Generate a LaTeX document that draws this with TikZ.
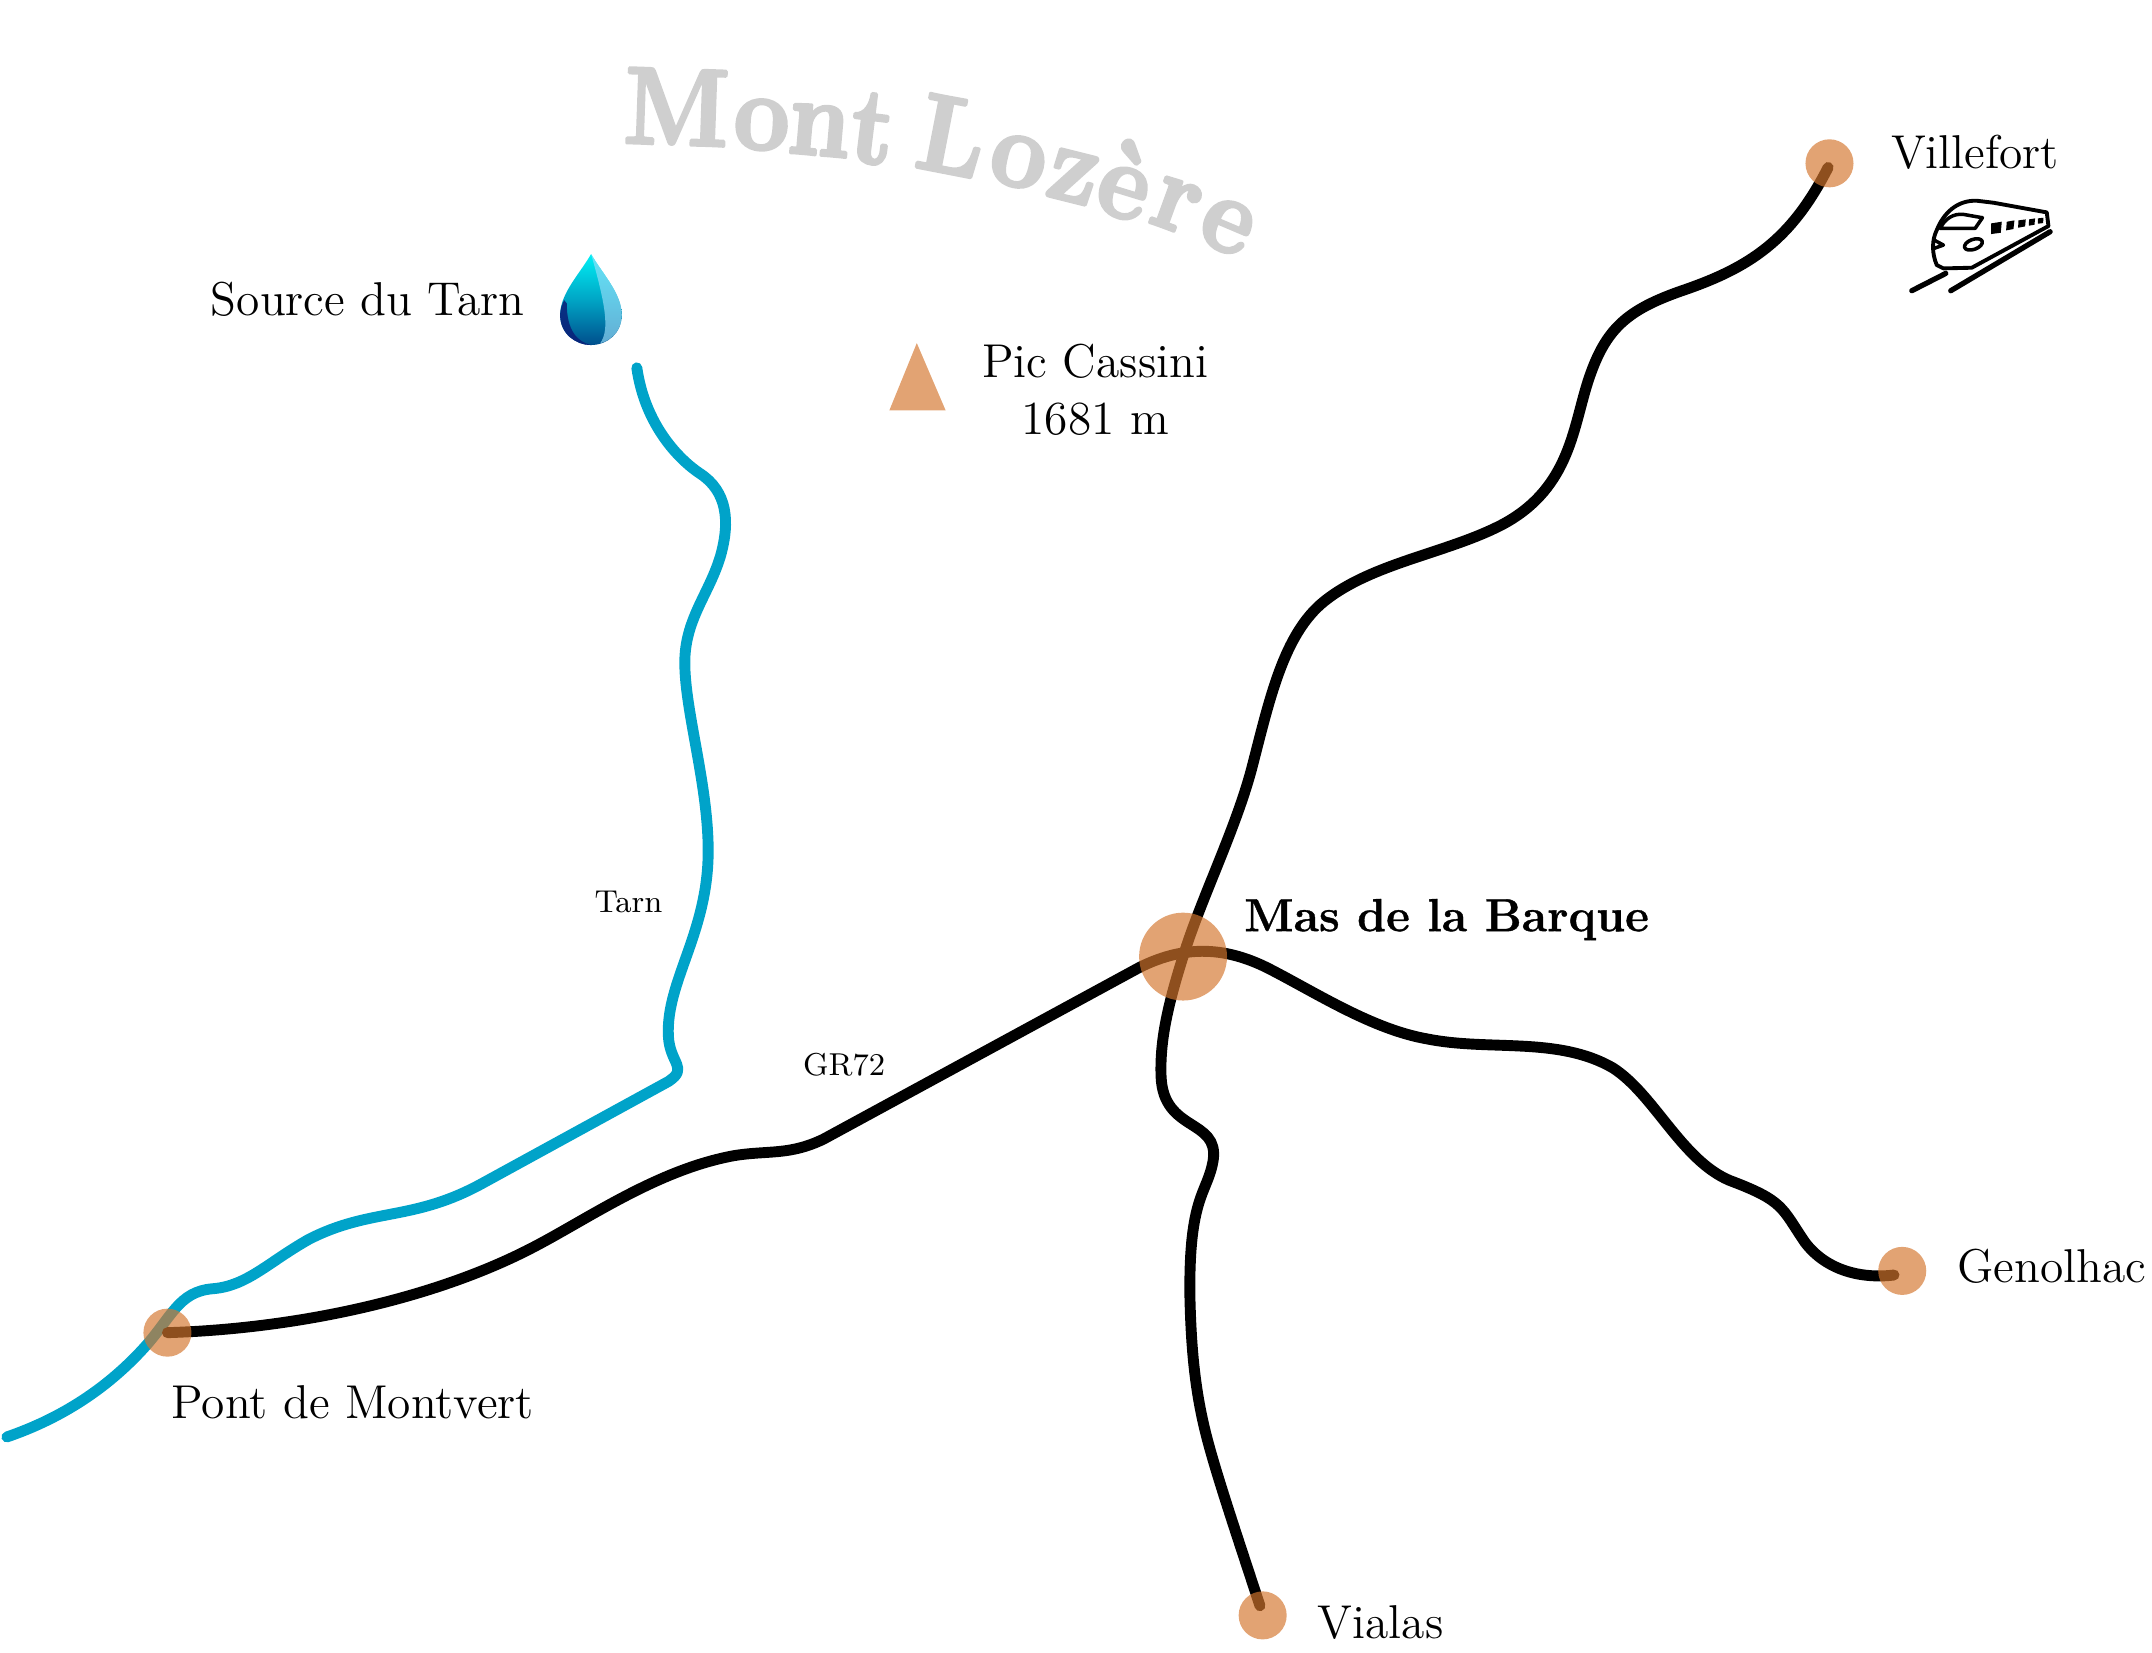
\documentclass[tikz,border=0pt]{standalone}
\usepackage{fontspec}
\newfontfamily\titre[FakeStretch=.9,FakeBold=3.2]{Latin Modern Roman}
\newfontfamily\grasmas[FakeBold=.8]{Latin Modern Roman}
\definecolor{halte}{HTML}{D4762E}
\definecolor{riviere}{HTML}{00A3C9}
\definecolor{massif}{HTML}{CFCFCF}
\definecolor{goutte}{HTML}{00A5C5}
\definecolor{gouttebas}{HTML}{004E8C}
\definecolor{gouttenuit}{HTML}{0A1E78}
\definecolor{gouttevif}{HTML}{00F0F5}
\tikzset{
	route/.style={line width=3.1pt,black,line cap=round,line join=round},
	tarn/.style={line width=3.1pt,riviere,line cap=round,line join=round},
	halt/.style={circle,fill=halte,fill opacity=.67,inner sep=0pt,minimum size=35*.3905pt},
	ville/.style={inner sep=0pt,font=\fontsize{13.5}{16}\selectfont},
	petit/.style={inner sep=0pt,font=\fontsize{9}{11}\selectfont},
	lettre/.style={inner sep=0pt,massif,font=\titre\fontsize{31}{31}\bfseries}
}
\begin{document}
\begin{tikzpicture}[x=.013724cm,y=-.013724cm,line join=round,line cap=round]
	\useasboundingbox (0,0) rectangle (1568,1204);
	\path
	(1333,119) coordinate (V)
	(862,697) coordinate (M)
	(122,971) coordinate (P)
	(1386,926) coordinate (G)
	(920,1177) coordinate (L);
	\draw[tarn] (464,268) .. controls (470,310) and (495,335) .. (510,345)
	.. controls (530,358) and (532,380) .. (525,405)
	.. controls (517,432) and (500,450) .. (499,480)
	.. controls (498,515) and (516,570) .. (516,620)
	.. controls (516,680) and (485,715) .. (487,755)
	.. controls (488,775) and (502,778) .. (487,788)
	-- (350,863)
	.. controls (300,890) and (270,880) .. (225,903)
	.. controls (195,920) and (180,937) .. (155,939)
	.. controls (130,941) and (125,960) .. (105,982)
	.. controls (75,1015) and (40,1035) .. (5,1047);
	\draw[route] (1332,122) .. controls (1305,175) and (1275,195) .. (1225,212)
	.. controls (1185,226) and (1170,240) .. (1158,275)
	.. controls (1146,310) and (1145,355) .. (1095,382)
	.. controls (1055,403) and (1000,410) .. (965,438)
	.. controls (935,462) and (925,510) .. (912,560)
	.. controls (900,605) and (875,655) .. (M)
	.. controls (850,735) and (845,760) .. (846,785)
	.. controls (848,825) and (888,815) .. (884,845)
	.. controls (880,870) and (866,870) .. (867,945)
	.. controls (868,990) and (872,1020) .. (880,1050)
	.. controls (888,1080) and (905,1130) .. (918,1170);
	\draw[route] (P) .. controls (220,968) and (320,945) .. (390,908)
	.. controls (430,887) and (480,852) .. (535,842)
	.. controls (560,838) and (575,842) .. (600,830)
	-- (830,705)
	.. controls (860,690) and (890,688) .. (925,706)
	.. controls (960,724) and (1000,750) .. (1040,757)
	.. controls (1085,766) and (1135,755) .. (1175,778)
	.. controls (1205,797) and (1225,845) .. (1260,860)
	.. controls (1300,875) and (1298,880) .. (1315,905)
	.. controls (1330,925) and (1355,932) .. (1380,929);
	\node[halt] (villefort) at (V) {};
	\node[halt,minimum size=64*.3905pt] (mas) at (M) {};
	\node[halt] (pont) at (P) {};
	\node[halt] (genolhac) at (G) {};
	\node[halt] (vialas) at (L) {};
	\fill[halte,fill opacity=.67] (648,299)--(689,299)--(668,250)--cycle;
	\node[ville] (lvillefort) at (1439,111) {Villefort};
	\node[ville] (lsource) at (268,218) {Source du Tarn};
	\node[ville,align=center] (lpic) at (798,284) {Pic Cassini\\1681 m};
	\node[ville] (lpont) at (257,1022) {Pont de Montvert};
	\node[ville,font=\grasmas\fontsize{13.2}{16}\bfseries] (lmas) at (1054,670) {Mas de la Barque};
	\node[ville] (lgenolhac) at (1495,923) {Genolhac};
	\node[ville] (lvialas) at (1006,1182) {Vialas};
	\node[petit] (ltarn) at (458,657) {Tarn};
	\node[petit] (lgr) at (615,776) {GR72};
	\foreach \l/\x/\y/\r in {M/493/78/-2,o/555/91/-3,n/597/95/-5,t/636/94/-7,L/694/99/-11,o/742/118/-13,z/782/129/-14,è/821/131/-17,r/857/150/-20,e/894/165/-23}
		\node[lettre,rotate=\r] at (\x,\y) {\l};
	\begin{scope}[shift={(1297,72.9)},x=.2429*.013724cm,y=-.2429*.013724cm]
		\draw[line width=1.1pt] (470,495) .. controls (455,460) and (455,420) .. (470,390) .. controls (490,340) and (530,300) .. (590,302) -- (640,308) -- (800,337) -- (805,378) -- (575,503) -- (490,505) -- cycle;
		\draw[line width=1pt] (480,385) .. controls (495,355) and (520,340) .. (550,343) -- (607,353) -- (585,385) -- cycle;
		\draw[line width=1pt] (462,420) -- (490,435) -- (462,445);
		\draw[line width=1pt,rotate around={20:(580,433)}] (580,433) ellipse (28 and 15);
		\fill (633,370)--(665,365)--(662,398)--(633,402)--cycle;
		\fill (680,365)--(703,361)--(700,387)--(678,391)--cycle;
		\fill (715,361)--(737,358)--(735,379)--(714,383)--cycle;
		\fill (747,358)--(765,355)--(763,374)--(746,377)--cycle;
		\fill (773,355)--(790,353)--(789,369)--(773,371)--cycle;
		\draw[line width=1.5pt] (395,572)--(497,520);
		\draw[line width=1.5pt] (512,572)--(810,395);
	\end{scope}
	\begin{scope}[shift={(131.2,167.6)},x=.2429*.013724cm,y=-.2429*.013724cm]
		\shade[top color=gouttevif,bottom color=gouttebas,middle color=goutte]
		(1233,72) .. controls (1200,130) and (1140,190) .. (1140,255) .. controls (1140,310) and (1185,345) .. (1233,345) .. controls (1281,345) and (1325,310) .. (1325,255) .. controls (1325,190) and (1266,130) .. (1233,72);
		\fill[gouttenuit,opacity=.85] (1140,255) .. controls (1140,310) and (1185,345) .. (1233,345) .. controls (1190,335) and (1160,300) .. (1160,220) -- (1152,210) .. controls (1145,225) and (1140,240) .. (1140,255);
		\fill[cyan!40!white,opacity=.65] (1233,72) .. controls (1266,130) and (1325,190) .. (1325,255) .. controls (1325,300) and (1295,330) .. (1260,340) .. controls (1290,300) and (1275,220) .. (1233,72);
	\end{scope}
\end{tikzpicture}
\end{document}
